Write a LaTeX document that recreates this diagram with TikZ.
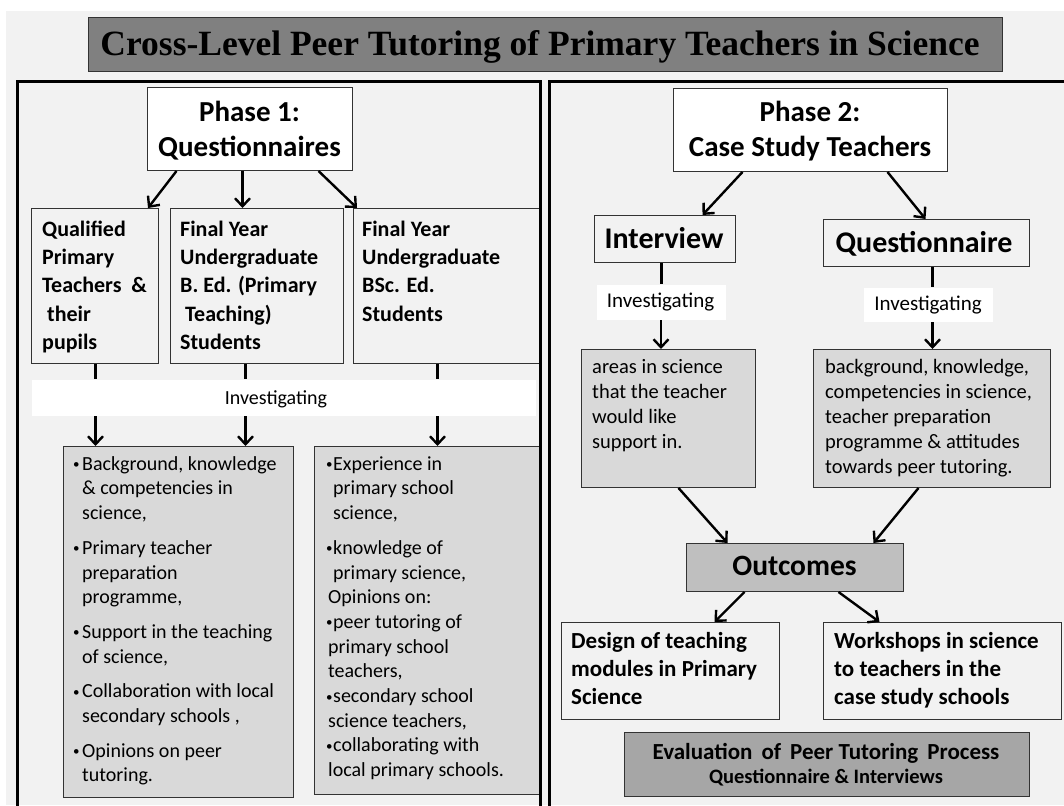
\documentclass[tikz,border=0pt]{standalone}
\usepackage{fontspec}
\setmainfont{Carlito}
\newfontfamily\titlefont{Liberation Serif}
\usetikzlibrary{arrows.meta}
\definecolor{pagebg}{HTML}{F2F2F2}
\definecolor{titlegrey}{HTML}{808080}
\definecolor{listgrey}{HTML}{D9D9D9}
\definecolor{outgrey}{HTML}{BFBFBF}
\definecolor{evalgrey}{HTML}{A6A6A6}
\definecolor{edge}{HTML}{333333}
\newcommand\fs[2]{\fontsize{#1pt}{#2pt}\selectfont}
\newcommand\firstline[1]{\rule{0pt}{#1pt}}
\newcommand\lbul{\makebox[9pt][l]{\raisebox{1.5pt}{\fs{13}{13}\textbullet}}}
\newcommand\rbul{\makebox[7pt][l]{\raisebox{1.5pt}{\fs{13}{13}\textbullet}}}
\tikzset{
  box/.style={draw=edge, line width=1pt, inner sep=0pt, anchor=north west},
  panel/.style={draw=black, line width=3pt},
  arr/.style={line width=2.4pt, -{Straight Barb[length=8pt,width=15pt]}},
  stub/.style={line width=3pt},
  txt/.style={inner sep=0pt, align=left, anchor=north west},
  ctxt/.style={inner sep=0pt, align=center, anchor=north},
  btxt/.style={inner sep=0pt, anchor=base},
}
\begin{document}
\begin{tikzpicture}[x=1pt,y=-1pt]
\useasboundingbox (0,0) rectangle (1064,805);
\clip (0,0) rectangle (1064,805);
\fill[white] (0,0) rectangle (1064,805);
\fill[pagebg] (6,11) rectangle (1064,805);

% ---------- title ----------
\node[box, fill=titlegrey, minimum width=914pt, minimum height=54pt] (title) at (88,17) {};
\node[btxt] (titletext) at (540,56)
  {\titlefont\bfseries\fs{35.5}{40}Cross-Level Peer Tutoring of Primary Teachers in Science};

% ---------- phase 1 ----------
\node[box, fill=white, minimum width=205pt, minimum height=83pt] (ph1) at (147,87) {};
\node[ctxt, font=\bfseries\fs{29}{35}] (ph1text) at (249.5,97)
  {\firstline{24}Phase 1:\\Questionnaires};

\node[box, fill=pagebg, minimum width=127pt, minimum height=155pt] (qual) at (31,208) {};
\node[box, fill=pagebg, minimum width=173pt, minimum height=155pt] (bed) at (170,208) {};
\node[box, fill=pagebg, minimum width=186pt, minimum height=155pt] (bsc) at (353,208) {};
\node[txt, font=\bfseries\fs{22}{28.3}] (qualtext) at (42,217)
  {\firstline{19}Qualified\\Primary\\Teachers~ \&\\\hspace*{5pt}their\\pupils};
\node[txt, font=\bfseries\fs{22}{28.3}] (bedtext) at (180,217)
  {\firstline{19}Final Year\\Undergraduate\\B. Ed. (Primary\\\hspace*{5pt}Teaching)\\Students};
\node[txt, font=\bfseries\fs{22}{28.3}] (bsctext) at (362,217)
  {\firstline{19}Final Year\\Undergraduate\\BSc. Ed.\\Students};

\draw[arr] ([xshift=-73.5pt]ph1.south) -- ([xshift=-11pt]qual.north east);
\draw[arr] ([xshift=-7.5pt]ph1.south) -- ([xshift=-7.5pt]ph1.south |- bed.north);
\draw[arr] ([xshift=68.5pt]ph1.south) -- ([xshift=4pt]bsc.north west);

\node[box, draw=none, fill=white, minimum width=504pt, minimum height=36pt] (band) at (31,379) {};
\node[btxt, font=\fs{20}{24}] (bandtext) at (276,404) {Investigating};

\coordinate (c1) at ([xshift=0.5pt]qual.south);
\coordinate (c2) at ([xshift=-11.5pt]bed.south);
\coordinate (c3) at ([xshift=-9pt]bsc.south);
\draw[stub] (c1) -- (c1 |- band.north);
\draw[stub] (c2) -- (c2 |- band.north);
\draw[stub] (c3) -- (c3 |- band.north);

\node[box, fill=listgrey, minimum width=230pt, minimum height=351pt] (list1) at (63,446) {};
\node[box, fill=listgrey, minimum width=225pt, minimum height=348pt] (list2) at (314,446) {};

\draw[arr] (c1 |- band.south) -- (c1 |- list1.north);
\draw[arr] (c2 |- band.south) -- (c2 |- list1.north);
\draw[arr] (c3 |- band.south) -- (c3 |- list2.north);

\node[txt, font=\fs{20}{24.7}] (list1text) at (73,453)
  {\firstline{17}\lbul Background, knowledge\\
   \hspace*{9pt}\& competencies in\\
   \hspace*{9pt}science,\\[10pt]
   \lbul Primary teacher\\
   \hspace*{9pt}preparation\\
   \hspace*{9pt}programme,\\[10pt]
   \lbul Support in the teaching\\
   \hspace*{9pt}of science,\\[10pt]
   \lbul Collaboration with local\\
   \hspace*{9pt}secondary schools ,\\[10pt]
   \lbul Opinions on peer\\
   \hspace*{9pt}tutoring.};
\node[txt, font=\fs{20}{24.7}] (list2text) at (326,453)
  {\firstline{17}\rbul Experience in\\
   \hspace*{7pt}primary school\\
   \hspace*{7pt}science,\\[10pt]
   \rbul knowledge of\\
   \hspace*{7pt}primary science,\\
   \hspace*{2pt}Opinions on:\\
   \rbul peer tutoring of\\
   \hspace*{2pt}primary school\\
   \hspace*{2pt}teachers,\\
   \rbul secondary school\\
   \hspace*{2pt}science teachers,\\
   \rbul collaborating with\\
   \hspace*{2pt}local primary schools.};

% ---------- phase 2 ----------
\node[box, fill=white, minimum width=274pt, minimum height=83pt] (ph2) at (673,88) {};
\node[ctxt, font=\bfseries\fs{29}{35}] (ph2text) at (810,97)
  {\firstline{24}Phase 2:\\Case Study Teachers};

\node[box, fill=pagebg, minimum width=141pt, minimum height=47pt] (int) at (594,215) {};
\node[btxt, font=\bfseries\fs{30}{36}] (inttext) at (664,248) {Interview};
\node[box, fill=pagebg, minimum width=206pt, minimum height=47pt] (quest) at (823,219) {};
\node[btxt, font=\bfseries\fs{30}{36}] (questtext) at (924,252) {Questionnaire};

\draw[arr] ([xshift=-68pt]ph2.south) -- ([xshift=37.5pt]int.north);
\draw[arr] ([xshift=77pt]ph2.south) -- ([xshift=-1pt]quest.north);

\node[box, draw=none, fill=white, minimum width=129pt, minimum height=35pt] (inv1) at (596,284) {};
\node[btxt, font=\fs{21}{25}] (inv1text) at (660.5,307) {Investigating};
\node[box, draw=none, fill=white, minimum width=129pt, minimum height=34pt] (inv2) at (863,287) {};
\node[btxt, font=\fs{21}{25}] (inv2text) at (928,310) {Investigating};

\node[box, fill=listgrey, minimum width=174pt, minimum height=138pt] (areas) at (581,349) {};
\node[box, fill=listgrey, minimum width=237pt, minimum height=138pt] (bgbox) at (813,349) {};
\node[txt, font=\fs{20.5}{25}] (areastext) at (592,356)
  {\firstline{17}areas in science\\that the teacher\\would like\\support in.};
\node[txt, font=\fs{20.5}{25}] (bgtext) at (825,356)
  {\firstline{17}background, knowledge,\\competencies in science,\\teacher preparation\\programme \& attitudes\\towards peer tutoring.};

\draw[stub] (int.south -| inv1.north) -- (inv1.north);
\draw[arr] (inv1.south) -- (inv1.south |- areas.north);
\coordinate (q1) at ([xshift=6pt]quest.south);
\draw[stub] (q1) -- (q1 |- inv2.north);
\draw[arr] (q1 |- inv2.south) -- (q1 |- bgbox.north);

\node[box, fill=outgrey, minimum width=217pt, minimum height=48pt] (out) at (686,543) {};
\node[btxt, font=\bfseries\fs{29.5}{35}] (outtext) at (794.5,575) {Outcomes};

\draw[arr] ([xshift=10pt]areas.south) -- ([xshift=-67.5pt]out.north);
\draw[arr] ([xshift=-13.5pt]bgbox.south) -- ([xshift=78.5pt]out.north);

\node[box, fill=pagebg, minimum width=218pt, minimum height=97pt] (design) at (561,622) {};
\node[box, fill=pagebg, minimum width=238pt, minimum height=97pt] (work) at (823,622) {};
\node[txt, font=\bfseries\fs{23}{28}] (designtext) at (571,629)
  {\firstline{19}Design of teaching\\modules in Primary\\Science};
\node[txt, font=\bfseries\fs{23}{28}] (worktext) at (834,629)
  {\firstline{19}Workshops in science\\to teachers in the\\case study schools};

\draw[arr] ([xshift=-50.5pt]out.south) -- ([xshift=44pt]design.north);
\draw[arr] ([xshift=43.5pt]out.south) -- ([xshift=-63pt]work.north);

\node[box, fill=evalgrey, minimum width=405pt, minimum height=64pt] (eval) at (624,732) {};
\node[btxt, font=\bfseries\fs{23}{28}] (evaltexta) at (826,759) {Evaluation\, of\, Peer Tutoring\, Process};
\node[btxt, font=\bfseries\fs{20.5}{24}] (evaltextb) at (826,783) {Questionnaire \& Interviews};

% ---------- phase panels ----------
\draw[panel] (17,82) rectangle (540,840);
\draw[panel] (549,82) rectangle (1100,840);
\end{tikzpicture}
\end{document}
